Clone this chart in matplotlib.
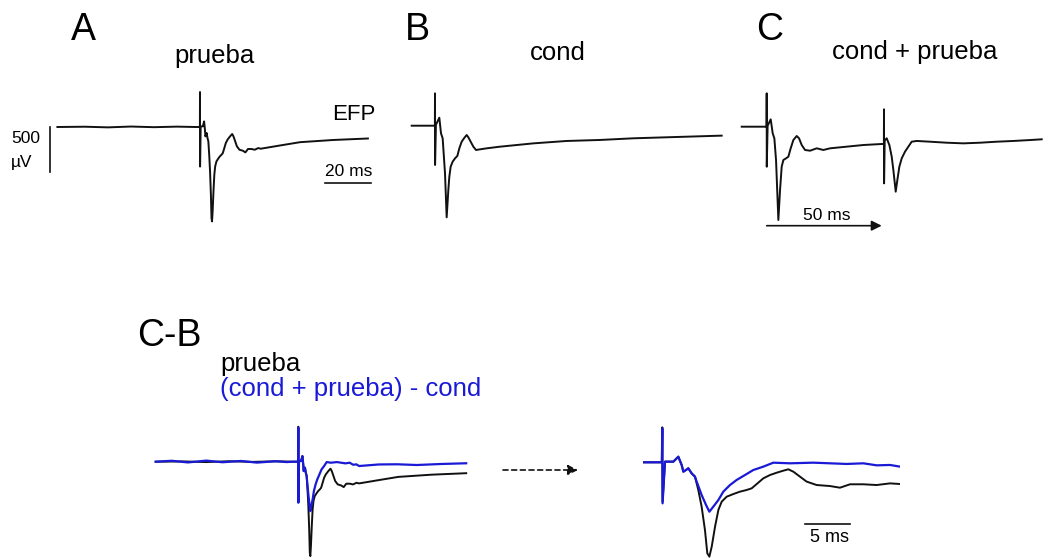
import matplotlib
matplotlib.use("Agg")
import matplotlib.pyplot as plt
from matplotlib.patches import FancyArrowPatch

plt.rcParams['font.family'] = ['Liberation Sans', 'DejaVu Sans']

W, H = 1043, 559
PX_UV = 0.092   # pixels per microvolt
PX_MS = 2.3     # pixels per ms (overview panels)
PX_MS_ZOOM = 9.0

# ---------------- data (time in ms, voltage in µV) ----------------
prueba_t = [-62, -50, -40, -30, -20, -10, -2.1, -0.05, 0, 0.03, 0.3,
            1.23, 1.78, 2.15, 2.34, 2.63, 2.89, 3.26, 3.63,
            4.00, 4.37, 4.74, 5.00, 5.23, 5.49, 5.86, 6.23, 6.60,
            7.15, 7.89, 8.63, 9.37, 9.93, 10.49, 11.23, 11.97, 12.71, 13.45,
            14.0, 14.56, 15.3, 16.04, 17.15, 18.63, 19.74, 20.86, 22.34, 23.82,
            25.3, 26.41, 35, 43.5, 58, 73]
prueba_v = [0, 3, -4, 5, -2, 4, 0, 0, 380, -430, 7,
            7, 61, -29, -102, -84, -65, -120, -156,
            -301, -482, -736, -989, -1026, -917, -700, -518, -428,
            -374, -345, -319, -301, -283, -236, -174, -138, -113, -91,
            -76, -102, -156, -210, -247, -258, -276, -239, -239, -247,
            -229, -236, -200, -165, -141, -125]

cond_t = [-10.14, -0.05, 0, 0.03, 0.4, 1.88, 2.61, 3.33, 4.35, 5.07,
          5.80, 6.23, 6.81, 7.68, 8.70, 9.71, 10.58, 11.59, 12.61, 13.77,
          14.49, 15.51, 16.67, 17.83, 19.57, 22.46, 28.26, 42.75, 57.25, 71.74,
          86.23, 100.72, 124.64]
cond_v = [0, 0, 352, -427, 10, 87, -83, -137, -518, -996,
          -699, -554, -445, -391, -355, -329, -246, -174, -137, -101,
          -126, -174, -228, -264, -257, -246, -228, -192, -166, -155,
          -137, -126, -108]

condprueba_t = [-10.87, -0.05, 0, 0.03, 0.4, 1.74, 2.61, 3.33, 4.06, 5.07,
                5.80, 6.52, 7.25, 8.40, 9.42, 10.43, 11.59, 13.04, 14.06, 15.22,
                16.67, 18.84, 21.74, 24.64, 27.54, 34.78, 42.03, 50.0, 50.95, 51.0,
                51.03, 51.3, 52.17, 53.33, 54.35, 55.07, 56.09, 56.81, 57.68, 58.70,
                60.14, 61.59, 63.04, 65.22, 71.01, 78.26, 85.51, 92.75, 100.0, 107.25,
                114.49, 119.57]
condprueba_v = [0, 0, 363, -435, 10, 80, -72, -126, -362, -1014,
                -688, -434, -362, -344, -326, -235, -145, -101, -126, -199,
                -253, -261, -235, -253, -235, -217, -199, -188, -188, 189,
                -616, -150, -126, -199, -326, -471, -706, -579, -434, -344,
                -271, -217, -163, -155, -163, -174, -181, -174, -163, -155,
                -145, -137]

resta_t = [-62, -55, -48, -40, -33, -25, -18, -10, -5, -2.1,
           -0.05, 0, 0.03, 0.3,
           1.23, 1.78, 2.15, 2.34, 2.63, 2.89, 3.26, 3.63,
           3.82, 4.37, 4.86, 5.23, 5.67, 6.23, 6.78, 7.52, 8.26, 9.19,
           10.11, 11.23, 12.34, 14.19, 16.78, 18.63, 20.49, 22.34, 23.82, 25.3,
           26.41, 35, 43, 51.5, 62, 73]
resta_v = [0, 10, -8, 12, -6, 8, -10, 5, -4, 0,
           0, 370, -446, 7,
           7, 61, -29, -102, -84, -65, -120, -156,
           -210, -355, -464, -537, -482, -410, -319, -247, -192, -138,
           -84, -47, -4, -11, -4, -11, -18, -11, -33, -29,
           -47, -30, -28, -36, -25, -17]

BLACK = '#111111'
BLUE = '#1a1ad6'
LW = 1.4

fig = plt.figure(figsize=(W / 100, H / 100), dpi=100)


def px(x, y):
    return (x / W, 1 - y / H)


def panel_axes(x0, x1, stim_x, base_y, px_ms):
    ax = fig.add_axes([x0 / W, 0, (x1 - x0) / W, 1], facecolor='none')
    ax.set_xlim((x0 - stim_x) / px_ms, (x1 - stim_x) / px_ms)
    ax.set_ylim(-(H - base_y) / PX_UV, base_y / PX_UV)
    ax.axis('off')
    return ax


# Panel A
axA = panel_axes(50, 380, 200, 127, PX_MS)
axA.plot(prueba_t, prueba_v, color=BLACK, lw=LW)
axA.plot([-65.2, -65.2], [0, -490], color=BLACK, lw=1.2, clip_on=False)
axA.plot([54.3, 74.3], [-605, -605], color=BLACK, lw=1.2, clip_on=False)

# Panel B
axB = panel_axes(405, 730, 435, 125.7, PX_MS)
axB.plot(cond_t, cond_v, color=BLACK, lw=LW)

# Panel C
axC = panel_axes(735, 1043, 766.7, 126.7, PX_MS)
axC.plot(condprueba_t, condprueba_v, color=BLACK, lw=LW)
axC.add_patch(FancyArrowPatch((0, -1076), (50, -1076), arrowstyle='-|>', mutation_scale=15,
                              color=BLACK, lw=1.2, shrinkA=0, shrinkB=0, clip_on=False))

# Panel C-B overview
axD = panel_axes(150, 480, 298.3, 461.7, PX_MS)
axD.plot(prueba_t, prueba_v, color=BLACK, lw=LW)
axD.plot(resta_t, resta_v, color=BLUE, lw=1.6)

# Panel C-B zoom
axE = panel_axes(643.3, 900, 662.3, 462.3, PX_MS_ZOOM)
axE.plot(prueba_t, prueba_v, color=BLACK, lw=LW)
axE.plot(resta_t, resta_v, color=BLUE, lw=1.6)
axE.plot([15.9, 20.9], [-674, -674], color=BLACK, lw=1.2, clip_on=False)

# dashed arrow between C-B panels
fig.add_artist(FancyArrowPatch(px(503, 470), px(578, 470), transform=fig.transFigure,
                               arrowstyle='-|>', mutation_scale=15, color=BLACK, lw=1.2,
                               linestyle=(0, (3, 2.2)), shrinkA=0, shrinkB=0))


# ---------------- texts ----------------
def t(x, y, s, size, color='black', ha='left'):
    fig.text(*px(x, y), s, fontsize=size, color=color, ha=ha, va='baseline')


t(71, 40, 'A', 27)
t(405, 40, 'B', 27)
t(756, 40, 'C', 27)
t(174, 62.5, 'prueba', 18.5)
t(530, 60, 'cond', 18.5)
t(832, 59.5, 'cond + prueba', 18.5)
t(332, 119.5, 'EFP', 16)
t(11, 142.5, '500', 12.5)
t(11, 167.5, 'µV', 12.5)
t(325, 176.5, '20 ms', 12.5)
t(803, 220, '50 ms', 12.5)
t(810, 541.5, '5 ms', 13)
t(137, 346, 'C-B', 27)
t(220, 371.5, 'prueba', 18.5)
t(220, 396, '(cond + prueba) - cond', 18.5, color=BLUE)

fig.savefig('out.png', dpi=100)
